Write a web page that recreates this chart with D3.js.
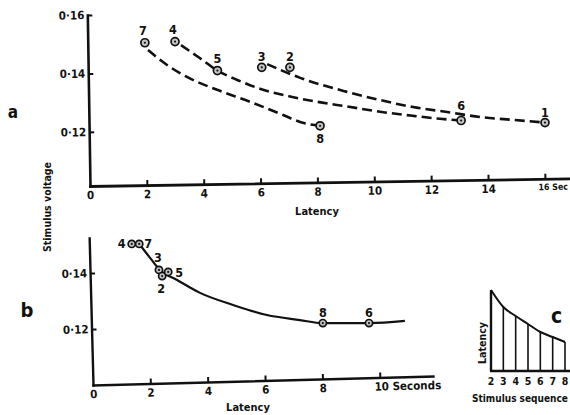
<!DOCTYPE html>
<html>
<head>
<meta charset="utf-8">
<script src="https://cdn.jsdelivr.net/npm/d3@7"></script>
<style>
  html, body { margin: 0; padding: 0; background: #fff; }
  svg { display: block; }
  text {
    font-family: "DejaVu Sans Condensed", "Liberation Sans Narrow", "DejaVu Sans", sans-serif;
    font-weight: bold;
    fill: #111;
  }
</style>
</head>
<body>
<svg id="fig" width="570" height="415"></svg>
<script>
// ---------- Panel a: single trials ----------
const trialsA  = [1, 2, 3, 4, 5, 6, 7, 8];
const latencyA = [16.0, 7.03, 6.04, 2.99, 4.48, 13.05, 1.93, 8.09];   // seconds
const voltageA = [0.1232, 0.1421, 0.1421, 0.1509, 0.1410, 0.1239, 0.1505, 0.1221];

// dashed curves joining the trials (7 -> 8, 4 -> 5 -> 6, 3 -> 2 -> 1)
const curveLowLat   = [2.04, 2.71, 3.41, 4.47, 5.63, 6.79, 7.39, 8.09];
const curveLowVolt  = [0.1480, 0.1429, 0.1388, 0.1344, 0.1303, 0.1258, 0.1234, 0.1221];
const curveMidLat   = [3.2, 3.87, 4.48, 5.2, 6.0, 7.0, 8.0, 9.04, 10.2, 11.36, 12.31, 13.05];
const curveMidVolt  = [0.1497, 0.1452, 0.1410, 0.1377, 0.1347, 0.1322, 0.1303, 0.1287, 0.1269, 0.1255, 0.1245, 0.1239];
const curveHighLat  = [6.23, 7.39, 9.04, 10.2, 11.36, 12.56, 13.72, 14.88, 16.0];
const curveHighVolt = [0.1432, 0.1385, 0.1337, 0.1309, 0.1285, 0.1268, 0.1251, 0.1241, 0.1232];

const xTicksA = [0, 2, 4, 6, 8, 10, 12, 14, 16];
const yTicksA = [0.12, 0.14, 0.16];

// ---------- Panel b: same trials re-plotted ----------
const trialsB  = [4, 7, 3, 2, 5, 8, 6];
const latencyB = [1.35, 1.61, 2.30, 2.41, 2.62, 8.01, 9.62];
const voltageB = [0.1504, 0.1504, 0.1411, 0.1389, 0.1404, 0.1221, 0.1221];

const curveBLat  = [1.64, 1.99, 2.33, 2.93, 3.73, 4.88, 6.06, 7.21, 8.01, 9.62, 10.87];
const curveBVolt = [0.1500, 0.1454, 0.1411, 0.1375, 0.1329, 0.1286, 0.1250, 0.1232, 0.1221, 0.1221, 0.1229];

const xTicksB = [0, 2, 4, 6, 8, 10];
const yTicksB = [0.12, 0.14];

// ---------- Panel c: latency along the stimulus sequence ----------
const stimuliC = [2, 3, 4, 5, 6, 7, 8];
const latencyC = [81, 64, 55, 47, 39, 34, 29];   // relative latency

const svg = d3.select("#fig");
const ink = "#111";
const W = 570;

const voltFmt = d => "0·" + Math.round(d * 100);

// shrink a text's font size until its right edge stays inside the figure
function fitRight(sel, maxRight) {
  const node = sel.node();
  let size = parseFloat(sel.style("font-size"));
  for (let k = 0; k < 40 && node.getBoundingClientRect().right > maxRight; k++) {
    size -= 0.25;
    sel.style("font-size", size + "px");
  }
}

function styleAxis(g, domainW, tickW) {
  g.select(".domain").attr("stroke", ink).attr("stroke-width", domainW).attr("stroke-linecap", "square");
  g.selectAll(".tick line").attr("stroke", ink).attr("stroke-width", tickW);
  g.selectAll(".tick text").attr("fill", ink).style("font-size", "11.5px").attr("font-family", null);
}

function marker(g, x, y, r) {
  g.append("circle").attr("cx", x).attr("cy", y).attr("r", r)
    .attr("fill", "#c4c4c4").attr("stroke", ink).attr("stroke-width", 1.7);
  g.append("circle").attr("cx", x).attr("cy", y).attr("r", 1.1).attr("fill", ink);
}

// =========================== Panel a ===========================
const xA = d3.scaleLinear().domain([0, 16.88]).range([90, 570]);
const yA = d3.scaleLinear().domain([0.1015, 0.16]).range([186, 15]);

const axesA = svg.append("g").attr("transform", "rotate(-0.9, 90, 186)");

const gxA = axesA.append("g").attr("transform", "translate(0,186)")
  .call(d3.axisBottom(xA).tickValues(xTicksA).tickSizeInner(-5).tickSizeOuter(0).tickPadding(5)
    .tickFormat(d => d === 16 ? "16 Sec" : String(d)));
styleAxis(gxA, 2.8, 2);
gxA.selectAll(".tick").filter(d => d === 0).select("line").remove();
const lastTickA = gxA.selectAll(".tick").filter(d => d === 16).select("text")
  .attr("text-anchor", "start").attr("x", -7);
fitRight(lastTickA, W - 1);

const gyA = axesA.append("g").attr("transform", "translate(90,0)")
  .call(d3.axisLeft(yA).tickValues(yTicksA).tickSizeInner(-5).tickSizeOuter(0).tickPadding(3)
    .tickFormat(voltFmt));
styleAxis(gyA, 2.6, 2);

const lineA = d3.line().curve(d3.curveMonotoneX).x(d => xA(d[0])).y(d => yA(d[1]));
[[curveLowLat, curveLowVolt], [curveMidLat, curveMidVolt], [curveHighLat, curveHighVolt]]
  .forEach(([lat, volt]) => {
    svg.append("path")
      .datum(lat.map((v, i) => [v, volt[i]]))
      .attr("d", lineA)
      .attr("fill", "none").attr("stroke", ink)
      .attr("stroke-width", 2.6).attr("stroke-dasharray", "10,5");
  });

// label offsets (dx, baseline dy) per trial number
const labelOffA = {1: [0, -6], 2: [0, -6], 3: [0, -6], 4: [-2, -8], 5: [0, -8], 6: [0, -11], 7: [-2, -8], 8: [0, 17]};
const ptsA = svg.append("g");
trialsA.forEach((t, i) => {
  const x = xA(latencyA[i]), y = yA(voltageA[i]);
  marker(ptsA, x, y, 4);
  ptsA.append("text").attr("x", x + labelOffA[t][0]).attr("y", y + labelOffA[t][1])
    .attr("text-anchor", "middle").style("font-size", "12.5px").text(t);
});

svg.append("text").attr("x", 317).attr("y", 215).attr("text-anchor", "middle")
  .style("font-size", "11px").text("Latency");
svg.append("text").attr("x", 13).attr("y", 118).attr("text-anchor", "middle")
  .style("font-size", "17px").text("a");

// shared y title
svg.append("text").attr("transform", "translate(51,207) rotate(-90)").attr("text-anchor", "middle")
  .style("font-size", "10.5px").text("Stimulus  voltage");

// =========================== Panel b ===========================
const xB = d3.scaleLinear().domain([0, 11.85]).range([93, 433]);
const yB = d3.scaleLinear().domain([0.10, 0.1525]).range([385, 238]);

const axesB = svg.append("g").attr("transform", "rotate(-1.5, 93, 385)");

const gxB = axesB.append("g").attr("transform", "translate(0,385)")
  .call(d3.axisBottom(xB).tickValues(xTicksB).tickSizeInner(-5).tickSizeOuter(0).tickPadding(5)
    .tickFormat(d => d === 10 ? "10 Seconds" : String(d)));
styleAxis(gxB, 2.6, 2);
gxB.selectAll(".tick").filter(d => d === 0).select("line").remove();
gxB.selectAll(".tick").filter(d => d === 10).select("text").attr("text-anchor", "start").attr("x", -6);

const gyB = axesB.append("g").attr("transform", "translate(93,0)")
  .call(d3.axisLeft(yB).tickValues(yTicksB).tickSizeInner(-5).tickSizeOuter(0).tickPadding(3)
    .tickFormat(voltFmt));
styleAxis(gyB, 2.4, 2);

const lineB = d3.line().curve(d3.curveMonotoneX).x(d => xB(d[0])).y(d => yB(d[1]));
svg.append("path")
  .datum(curveBLat.map((v, i) => [v, curveBVolt[i]]))
  .attr("d", lineB)
  .attr("fill", "none").attr("stroke", ink).attr("stroke-width", 2.2);

const labelOffB = {4: [-10, 4], 7: [9, 4], 3: [-1, -8], 5: [11, 5], 2: [-1, 17], 8: [0, -6], 6: [0, -6]};
const ptsB = svg.append("g");
trialsB.forEach((t, i) => {
  const x = xB(latencyB[i]), y = yB(voltageB[i]);
  marker(ptsB, x, y, 3.6);
});
trialsB.forEach((t, i) => {
  const x = xB(latencyB[i]), y = yB(voltageB[i]);
  ptsB.append("text").attr("x", x + labelOffB[t][0]).attr("y", y + labelOffB[t][1])
    .attr("text-anchor", "middle").style("font-size", "12.5px").text(t);
});

svg.append("text").attr("x", 248).attr("y", 411).attr("text-anchor", "middle")
  .style("font-size", "11px").text("Latency");
svg.append("text").attr("x", 27).attr("y", 317).attr("text-anchor", "middle")
  .style("font-size", "20px").text("b");

// =========================== Panel c ===========================
const xC = d3.scalePoint().domain(stimuliC).range([491, 565]);
const yC = d3.scaleLinear().domain([0, 81]).range([371, 290]);

const gC = svg.append("g");
gC.selectAll("line.bar").data(stimuliC).join("line")
  .attr("class", "bar")
  .attr("x1", d => xC(d)).attr("x2", d => xC(d))
  .attr("y1", yC(0)).attr("y2", (d, i) => yC(latencyC[i]))
  .attr("stroke", ink).attr("stroke-width", (d, i) => i === 0 ? 2.4 : 1.6);
gC.append("line").attr("x1", xC(2) - 1).attr("x2", 572).attr("y1", yC(0)).attr("y2", yC(0))
  .attr("stroke", ink).attr("stroke-width", 2.4);
gC.append("path")
  .datum(stimuliC.map((s, i) => [s, latencyC[i]]))
  .attr("d", d3.line().curve(d3.curveMonotoneX).x(d => xC(d[0])).y(d => yC(d[1])))
  .attr("fill", "none").attr("stroke", ink).attr("stroke-width", 2);
gC.selectAll("text.tick").data(stimuliC).join("text")
  .attr("class", "tick")
  .attr("x", d => xC(d)).attr("y", 385).attr("text-anchor", "middle")
  .style("font-size", "10.5px").text(d => d);
gC.append("text").attr("transform", "translate(486,343) rotate(-90)").attr("text-anchor", "middle")
  .style("font-size", "10.5px").text("Latency");
const stimTitle = gC.append("text").attr("x", 472).attr("y", 402).style("font-size", "11px")
  .text("Stimulus sequence");
fitRight(stimTitle, W - 1);
gC.append("text").attr("x", 551).attr("y", 323).style("font-size", "21px").text("c");
</script>
</body>
</html>
